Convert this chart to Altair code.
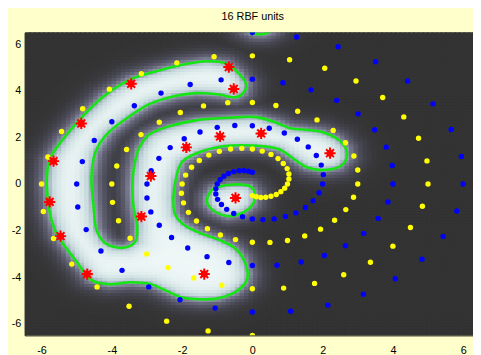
import numpy as np
import pandas as pd
import altair as alt

# Blue spiral points
BX = [0.00, 1.26, 2.44, 3.51, 4.42, 5.14, 5.66, 5.95, 6.00, 5.82, 5.43, 4.83, 4.07, 3.16, 2.15, 1.09,
      0.00, -1.06, -2.06, -2.95, -3.71, -4.31, -4.73, -4.97, -5.00, -4.84, -4.50, -4.00, -3.36, -2.60, -1.77, -0.89,
      0.00, 0.87, 1.67, 2.40, 3.01, 3.48, 3.81, 3.98, 4.00, 3.86, 3.58, 3.17, 2.65, 2.05, 1.39, 0.70,
      0.00, -0.67, -1.29, -1.84, -2.30, -2.65, -2.89, -3.00, -3.00, -2.88, -2.66, -2.34, -1.94, -1.49, -1.00, -0.50,
      0.00, 0.48, 0.91, 1.28, 1.59, 1.82, 1.96, 2.02, 2.00, 1.90, 1.73, 1.51, 1.24, 0.94, 0.62, 0.30,
      0.00, -0.28, -0.53, -0.73, -0.88, -0.99, -1.04, -1.04, -1.00, -0.92, -0.81, -0.68, -0.53, -0.38, -0.24, -0.11,
      0.00]
BY = [6.50, 6.31, 5.89, 5.25, 4.42, 3.44, 2.34, 1.18, 0.00, -1.16, -2.25, -3.23, -4.07, -4.73, -5.20, -5.46,
      -5.50, -5.33, -4.97, -4.42, -3.71, -2.88, -1.96, -0.99, 0.00, 0.96, 1.87, 2.67, 3.36, 3.90, 4.27, 4.47,
      4.50, 4.35, 4.04, 3.59, 3.01, 2.33, 1.58, 0.79, 0.00, -0.77, -1.48, -2.12, -2.65, -3.07, -3.35, -3.49,
      -3.50, -3.37, -3.12, -2.75, -2.30, -1.77, -1.20, -0.60, 0.00, 0.57, 1.10, 1.56, 1.94, 2.23, 2.43, 2.51,
      2.50, 2.39, 2.19, 1.92, 1.59, 1.22, 0.81, 0.40, 0.00, -0.38, -0.72, -1.01, -1.24, -1.40, -1.50, -1.53,
      -1.50, -1.41, -1.27, -1.09, -0.88, -0.66, -0.43, -0.21, 0.00, 0.18, 0.33, 0.45, 0.53, 0.57, 0.58, 0.55,
      0.50]
# Yellow spiral points
YX = [0.00, -1.26, -2.44, -3.51, -4.42, -5.14, -5.66, -5.95, -6.00, -5.82, -5.43, -4.83, -4.07, -3.16, -2.15, -1.09,
      0.00, 1.06, 2.06, 2.95, 3.71, 4.31, 4.73, 4.97, 5.00, 4.84, 4.50, 4.00, 3.36, 2.60, 1.77, 0.89,
      0.00, -0.87, -1.67, -2.40, -3.01, -3.48, -3.81, -3.98, -4.00, -3.86, -3.58, -3.17, -2.65, -2.05, -1.39, -0.70,
      0.00, 0.67, 1.29, 1.84, 2.30, 2.65, 2.89, 3.00, 3.00, 2.88, 2.66, 2.34, 1.94, 1.49, 1.00, 0.50,
      0.00, -0.48, -0.91, -1.28, -1.59, -1.82, -1.96, -2.02, -2.00, -1.90, -1.73, -1.51, -1.24, -0.94, -0.62, -0.30,
      0.00, 0.28, 0.53, 0.73, 0.88, 0.99, 1.04, 1.04, 1.00, 0.92, 0.81, 0.68, 0.53, 0.38, 0.24, 0.11,
      0.00]
YY = [-6.50, -6.31, -5.89, -5.25, -4.42, -3.44, -2.34, -1.18, 0.00, 1.16, 2.25, 3.23, 4.07, 4.73, 5.20, 5.46,
      5.50, 5.33, 4.97, 4.42, 3.71, 2.88, 1.96, 0.99, 0.00, -0.96, -1.87, -2.67, -3.36, -3.90, -4.27, -4.47,
      -4.50, -4.35, -4.04, -3.59, -3.01, -2.33, -1.58, -0.79, 0.00, 0.77, 1.48, 2.12, 2.65, 3.07, 3.35, 3.49,
      3.50, 3.37, 3.12, 2.75, 2.30, 1.77, 1.20, 0.60, 0.00, -0.57, -1.10, -1.56, -1.94, -2.23, -2.43, -2.51,
      -2.50, -2.39, -2.19, -1.92, -1.59, -1.22, -0.81, -0.40, 0.00, 0.38, 0.72, 1.01, 1.24, 1.40, 1.50, 1.53,
      1.50, 1.41, 1.27, 1.09, 0.88, 0.66, 0.43, 0.21, 0.00, -0.18, -0.33, -0.45, -0.53, -0.57, -0.58, -0.55,
      -0.50]
# RBF centres (red stars)
CX = [-3.45, -4.87, -5.66, -2.89, -5.77, -5.46, -4.70, -3.16, -0.67, -0.53, -0.92, 0.25, -1.88, -0.48, -1.37, 2.21]
CY = [4.30, 2.60, 0.98, 0.34, -0.77, -2.24, -3.87, -1.40, 5.02, 4.08, 2.04, 2.17, 1.57, -0.60, -3.87, 1.32]

# Decision boundary (green 0.5 level): three closed curves
R1X = [-0.18, -0.38, -0.74, -1.30, -2.00, -2.70, -3.45, -4.20, -4.85, -5.40, -5.77, -5.85, -5.77, -5.55, -5.02,
       -4.60, -4.10, -3.45, -2.90, -2.50, -2.05, -1.50, -1.00, -0.50, -0.20, -0.13, -0.27, -0.55, -0.95, -1.50,
       -1.95, -2.20, -2.25, -2.18, -2.00, -1.50, -0.83, 0.00, 0.74, 1.20, 1.55, 1.97, 2.45, 2.68, 2.65, 2.40,
       2.00, 1.50, 1.10, 0.70, 0.10, -0.66, -1.58, -2.42, -2.95, -3.25, -3.38, -3.42, -3.38, -3.28, -3.32,
       -3.60, -3.95, -4.25, -4.45, -4.53, -4.58, -4.47, -4.10, -3.45, -2.90, -2.20, -1.60, -1.00, -0.50, -0.25]
R1Y = [4.30, 4.73, 5.17, 5.27, 5.12, 4.85, 4.50, 3.80, 2.87, 1.90, 1.05, 0.00, -1.20, -2.20, -3.30,
       -4.10, -4.30, -4.22, -4.30, -4.55, -4.85, -4.95, -4.92, -4.65, -4.25, -3.85, -3.17, -2.70, -2.40, -2.10,
       -1.75, -1.30, -0.60, 0.20, 0.95, 1.37, 1.62, 1.65, 1.50, 1.05, 0.72, 0.60, 0.72, 1.10, 1.55, 1.95,
       2.22, 2.33, 2.38, 2.62, 2.87, 2.84, 2.74, 2.45, 2.10, 1.45, 0.60, -0.20, -1.00, -1.80, -2.45,
       -2.72, -2.70, -2.45, -1.90, -0.80, 0.30, 1.35, 2.20, 2.95, 3.45, 3.78, 3.90, 3.85, 3.72, 3.92]
R2X = [-1.27, -1.10, -0.60, -0.10, 0.07, 0.00, -0.30, -0.70, -1.10, -1.28]
R2Y = [-0.55, -0.20, -0.03, -0.08, -0.40, -0.90, -1.25, -1.38, -1.15, -0.85]
R3X = [0.65, 0.56, 0.34, 0.06, -0.16, -0.25, -0.16, 0.06, 0.34, 0.56]
R3Y = [6.85, 7.10, 7.25, 7.25, 7.10, 6.85, 6.60, 6.45, 6.45, 6.60]

X_TICKS = [-6, -4, -2, 0, 2, 4, 6]
Y_TICKS = [-6, -4, -2, 0, 2, 4, 6]
XDOM = [-6.48, 6.28]
YDOM = [-6.5, 6.5]
SOFT = 0.24

regions = [(R1X, R1Y), (R2X, R2Y), (R3X, R3Y)]


def seg_dist(px, py, X, Y):
    ax = np.asarray(X, float)
    ay = np.asarray(Y, float)
    bx = np.roll(ax, -1)
    by = np.roll(ay, -1)
    dx = bx - ax
    dy = by - ay
    t = ((px[:, None] - ax) * dx + (py[:, None] - ay) * dy) / (dx * dx + dy * dy)
    t = np.clip(t, 0, 1)
    qx = ax + t * dx
    qy = ay + t * dy
    return np.sqrt((px[:, None] - qx) ** 2 + (py[:, None] - qy) ** 2).min(axis=1)


def inside(px, py, X, Y):
    X1 = np.asarray(X, float)
    Y1 = np.asarray(Y, float)
    X2 = np.roll(X1, -1)
    Y2 = np.roll(Y1, -1)
    cond = (Y1[None, :] > py[:, None]) != (Y2[None, :] > py[:, None])
    xint = X1[None, :] + (py[:, None] - Y1[None, :]) * (X2 - X1)[None, :] / ((Y2 - Y1)[None, :] + 1e-12)
    return ((cond & (px[:, None] < xint)).sum(axis=1) % 2) == 1


def field(px, py):
    d = np.min([seg_dist(px, py, X, Y) for X, Y in regions], axis=0)
    ins = np.any([inside(px, py, X, Y) for X, Y in regions], axis=0)
    sd = np.where(ins, d, -d)
    return 1.0 / (1.0 + np.exp(-sd / SOFT))


step = 0.13
ov = 0.06
xs = np.arange(XDOM[0] + step / 2, XDOM[1] + step / 2, step)
ys = np.arange(YDOM[0] + step / 2, YDOM[1] + step / 2, step)
GX, GY = np.meshgrid(xs, ys)
gx = GX.ravel()
gy = GY.ravel()
heat = pd.DataFrame({
    "x": gx - step / 2, "x2": gx + step / 2 + ov,
    "y": gy - step / 2, "y2": gy + step / 2 + ov,
    "v": field(gx, gy),
})

rows = []
for k, (X, Y) in enumerate(regions):
    for j, (a, b) in enumerate(zip(X, Y)):
        rows.append({"x": a, "y": b, "r": k, "o": j})
bound = pd.DataFrame(rows)

blue = pd.DataFrame({"x": BX, "y": BY})
yellow = pd.DataFrame({"x": YX, "y": YY})
centres = pd.DataFrame({"x": CX, "y": CY})

xsc = alt.Scale(domain=XDOM, nice=False, zero=False)
ysc = alt.Scale(domain=YDOM, nice=False, zero=False)
xax = alt.Axis(values=X_TICKS, labelExpr="'' + datum.value", grid=False, ticks=False, domain=False,
               labelPadding=9, title=None)
yax = alt.Axis(values=Y_TICKS, labelExpr="'' + datum.value", grid=False, ticks=False, domain=False,
               labelPadding=4, title=None)

hm = alt.Chart(heat).mark_rect(clip=True).encode(
    x=alt.X("x:Q", scale=xsc, axis=xax), x2="x2:Q",
    y=alt.Y("y:Q", scale=ysc, axis=yax), y2="y2:Q",
    color=alt.Color("v:Q", legend=None,
                    scale=alt.Scale(domain=[0, 0.12, 0.3, 0.5, 0.65, 0.85, 1.0],
                                    range=["#333333", "#44444e", "#66667a", "#9ea6b8",
                                           "#c6d8dc", "#e2eeee", "#eff7f7"],
                                    clamp=True)),
)
cl = alt.Chart(bound).mark_line(color="#14e614", strokeWidth=2.6, interpolate="cardinal-closed",
                                clip=True).encode(
    x="x:Q", y="y:Q", detail="r:N", order="o:Q")
yl = alt.Chart(yellow).mark_circle(color="#ffff00", size=30, opacity=1, clip=True).encode(x="x:Q", y="y:Q")
bl = alt.Chart(blue).mark_circle(color="#0000ff", size=30, opacity=1, clip=True).encode(x="x:Q", y="y:Q")
rc = alt.Chart(centres).mark_circle(color="#ff0000", size=50, opacity=1).encode(x="x:Q", y="y:Q")
rs = alt.Chart(centres).mark_point(
    shape="M0,-1L0,1M-1,0L1,0M-0.7,-0.7L0.7,0.7M-0.7,0.7L0.7,-0.7",
    filled=False, color="#ff0000", size=130, strokeWidth=2, opacity=1).encode(x="x:Q", y="y:Q")

chart = alt.layer(hm, cl, yl, bl, rc, rs).properties(
    width=456, height=308,
    autosize=alt.AutoSizeParams(type="none"),
    padding={"left": 17, "top": 22, "right": 0, "bottom": 17},
    background="#ffffcc",
    title=alt.TitleParams("16 RBF units", fontSize=11, fontWeight="normal", font="Liberation Sans",
                          color="black", anchor="middle", frame="group", offset=11, dx=4),
).configure_view(stroke="#000000", strokeWidth=1).configure_axis(
    labelFont="Liberation Sans", labelFontSize=11, labelColor="black")

chart.save("out.html", embed_options={"renderer": "svg", "actions": False})
